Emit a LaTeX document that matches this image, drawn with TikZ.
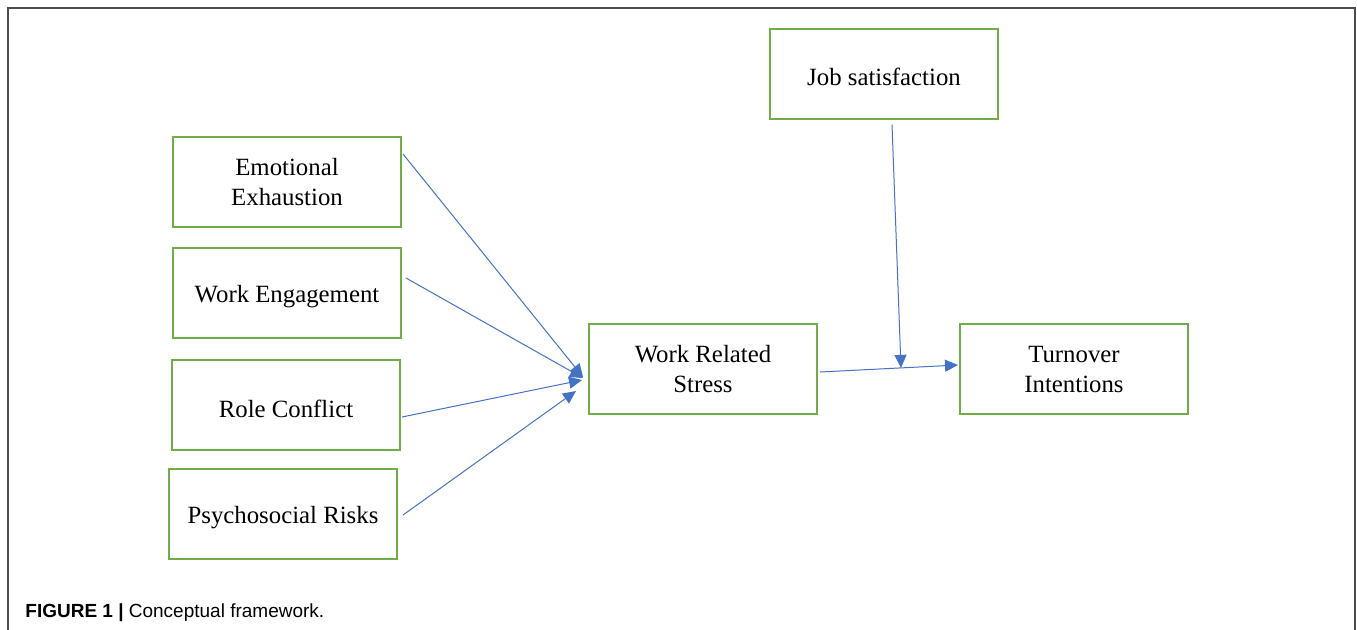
\documentclass[tikz,border=0pt]{standalone}
\usepackage{fontspec}
\setmainfont{Liberation Serif}
\newfontfamily\capfont{Liberation Sans}
\usepackage{tikz}
\usetikzlibrary{arrows.meta,positioning}
\usepackage{xcolor}
\definecolor{boxgreen}{HTML}{70AD47}
\definecolor{arrblue}{HTML}{4472C4}

\begin{document}
\begin{tikzpicture}[
  x=0.5pt, y=-0.5pt,
  font=\fontsize{12.4}{15}\selectfont,
  var/.style={draw=boxgreen, line width=1pt, minimum width=114pt,
              minimum height=45pt, align=center, inner sep=0pt,
              execute at begin node={\rule{0pt}{12.2pt}}},
  arr/.style={-{Triangle[length=6.5pt,width=6pt]}, draw=arrblue, line width=0.5pt}
]
\useasboundingbox (0,0) rectangle (1357,629);
\draw[black!70, line width=1pt] (8,640) -- (8,8) -- (1355,8) -- (1355,640);
\node[var] (ee) at (287,182) {Emotional\\Exhaustion};
\node[var, below=9.5pt of ee] (we) {Work Engagement};
\node[var, below=10pt of we, xshift=-0.5pt] (rc) {Role Conflict};
\node[var, below=8.5pt of rc, xshift=-1.5pt] (pr) {Psychosocial Risks};
\node[var] (wrs) at (703,369) {Work Related\\Stress};
\node[var] (ti) at (1074,369) {Turnover\\Intentions};
\node[var] (js) at (884,73.5) {Job satisfaction};
\draw[arr] ([xshift=0.5pt,yshift=-9pt]ee.north east) -- ([xshift=-2.5pt,yshift=-4pt]wrs.west);
\draw[arr] ([xshift=2pt,yshift=7.5pt]we.east) -- ([xshift=-2.5pt,yshift=-4.5pt]wrs.west);
\draw[arr] ([xshift=0.5pt,yshift=-6pt]rc.east) -- ([xshift=-3pt,yshift=-5.5pt]wrs.west);
\draw[arr] ([xshift=2.5pt,yshift=-0.5pt]pr.east) -- ([xshift=-6pt,yshift=-11pt]wrs.west);
\draw[arr] ([xshift=1pt,yshift=-1.5pt]wrs.east) -- coordinate[pos=0.587] (mod) ([xshift=-0.5pt,yshift=2pt]ti.west);
\draw[arr] ([xshift=4pt,yshift=-2.5pt]js.south) -- (mod);
\node[anchor=base west, inner sep=0pt, font=\capfont\fontsize{9.5}{11}\selectfont] (cap) at (25,617)
  {\textbf{FIGURE 1 |} Conceptual framework.};
\end{tikzpicture}
\end{document}
